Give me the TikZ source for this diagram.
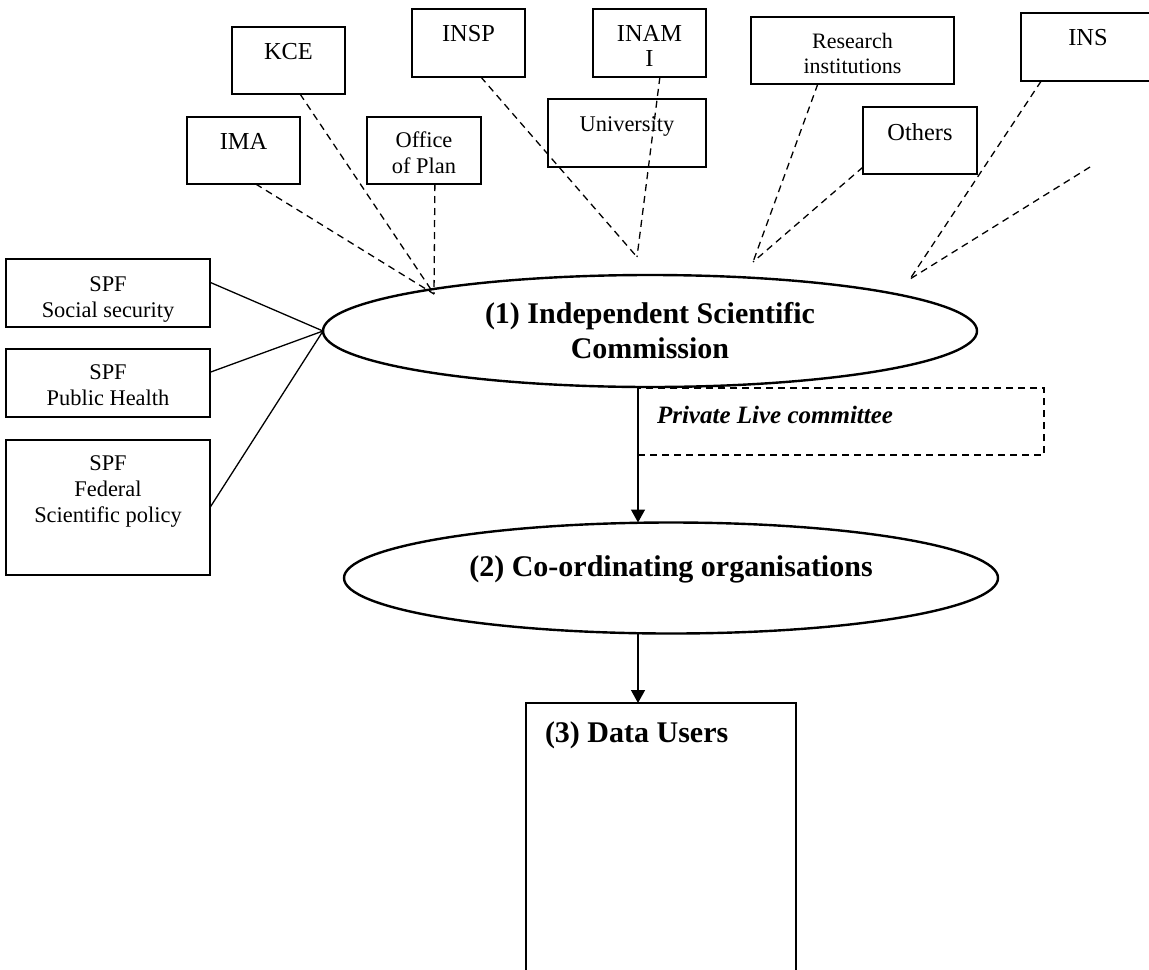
\documentclass[tikz,border=0pt]{standalone}
\usepackage{fontspec}
\setmainfont{Liberation Serif}
\usetikzlibrary{positioning,shapes.geometric,arrows.meta}

\begin{document}
\begin{tikzpicture}[x=0.5pt,y=-0.5pt]
        \tikzstyle{every node}=[font=\fontsize{12.2}{12.8}\selectfont, inner sep=0pt, outer sep=0pt]
        \tikzstyle{box}=[draw, line width=0.75pt, anchor=north west]
        \tikzstyle{txt}=[align=center]
        \tikzstyle{small}=[font=\fontsize{11.2}{12.8}\selectfont]
        \tikzstyle{link}=[line width=0.65pt, dash pattern=on 3.5pt off 2.5pt]
        \tikzstyle{org}=[ellipse, draw, line width=1.2pt, align=center, font=\fontsize{15}{17.5}\selectfont\bfseries]
        \tikzstyle{arr}=[line width=0.75pt, -{Triangle[length=6.5pt,width=7pt]}]
        \useasboundingbox (0,0) rectangle (1149,969);

        % sources
        \node[box, minimum width=56.5pt, minimum height=33.5pt] (ima) at (187,117) {};
        \node[below=8pt of ima.north] {IMA};
        \node[box, minimum width=56.5pt, minimum height=33.5pt] (kce) at (232,27) {};
        \node[below=8pt of kce.north] {KCE};
        \node[box, minimum width=57pt, minimum height=33.5pt] (office) at (367,117) {};
        \node[txt, small, below=7.5pt of office.north] {Office\\of Plan};
        \node[box, minimum width=56.5pt, minimum height=34pt] (insp) at (412,9) {};
        \node[below=8pt of insp.north] {INSP};
        \node[box, minimum width=56.5pt, minimum height=34pt] (inami) at (593,9) {};
        \node[txt, below=8pt of inami.north] {INAM\\I};
        \node[box, minimum width=79pt, minimum height=34pt] (univ) at (548,99) {};
        \node[small, below=9pt of univ.north] {University};
        \node[box, minimum width=101.5pt, minimum height=33.5pt] (research) at (751,17) {};
        \node[txt, font=\fontsize{11}{12.8}\selectfont, below=8pt of research.north] {Research\\institutions};
        \node[box, minimum width=57pt, minimum height=33.5pt] (others) at (863,107) {};
        \node[below=8.5pt of others.north] {Others};
        \node[box, minimum width=67pt, minimum height=34pt] (ins) at (1021,13) {};
        \node[below=8pt of ins.north] {INS};

        % ministries
        \node[box, minimum width=102pt, minimum height=34pt] (ss) at (6,259) {};
        \node[txt, small, below=9pt of ss.north] {SPF\\Social security};
        \node[box, minimum width=102pt, minimum height=34pt] (ph) at (6,349) {};
        \node[txt, small, below=8pt of ph.north] {SPF\\Public Health};
        \node[box, minimum width=102pt, minimum height=67.5pt] (fsp) at (6,440) {};
        \node[txt, small, below=8pt of fsp.north] {SPF\\Federal\\Scientific policy};

        % main flow
        \node[org, minimum width=327pt, minimum height=56pt] (isc) at (650,331) {(1) Independent Scientific\\Commission};
        \node[box, link, minimum width=203pt, minimum height=33.5pt] (plc) at (638,388) {};
        \node[below right=9pt and 9.5pt of plc.north west, font=\fontsize{12.5}{14}\selectfont\bfseries\itshape] {Private Live committee};
        \node[org, minimum width=327pt, minimum height=55.5pt, text depth=12.4pt] (coord) at (671,578) {(2) Co-ordinating organisations};
        \node[box, minimum width=135pt, minimum height=150pt] (users) at (526,703) {};
        \node[below right=9.5pt and 9.5pt of users.north west, font=\fontsize{15}{17.5}\selectfont\bfseries] {(3) Data Users};

        \coordinate (c1) at (434,294);
        \coordinate (c2) at (637,257);
        \coordinate (c3) at (753,262);
        \coordinate (c4) at (910,279);
        \coordinate (free) at (1090,167);

        \draw[link] (ima.-70) -- (c1);
        \draw[link] (kce.-71) -- (c1);
        \draw[link] (office.-72) -- (c1);
        \draw[link] (insp.-70) -- (c2);
        \draw[link] (inami.-73) -- (c2);
        \draw[link] (research.-136) -- (c3);
        \draw[link] (others.-155) -- (c3);
        \draw[link] (ins.-144) -- (c4);
        \draw[link] (free) -- (c4);

        \draw[line width=0.65pt] (ss.6) -- (isc.west);
        \draw[line width=0.65pt] (ph.6) -- (isc.west);
        \draw[line width=0.65pt] (fsp.east) -- (isc.west);

        \draw[arr] (plc.north west) -- (plc.west |- coord.north);
        \draw[arr] (coord.south -| plc.west) -- (plc.west |- users.north);
\end{tikzpicture}
\end{document}
